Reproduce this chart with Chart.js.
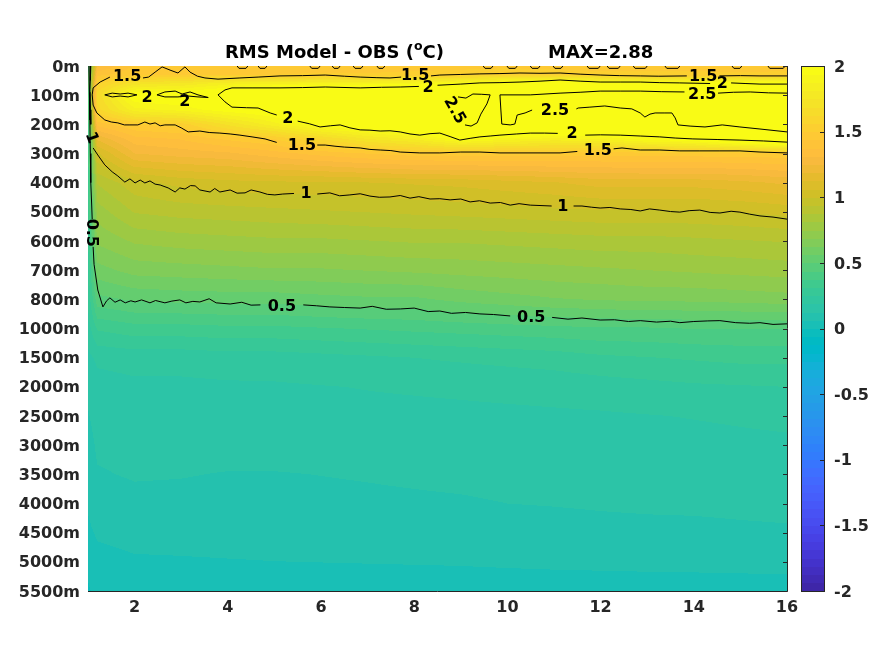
<!DOCTYPE html>
<html><head><meta charset="utf-8">
<script src="https://cdn.jsdelivr.net/npm/chart.js@4/dist/chart.umd.min.js"></script>
<style>
html,body{margin:0;padding:0;background:#fff;}
#wrap{position:relative;width:875px;height:656px;}
#wrap canvas{position:absolute;left:0;top:0;}
</style>
</head><body>
<div id="wrap"><canvas id="main" width="875" height="656"></canvas><canvas id="cbar" width="875" height="656"></canvas></div>
<script>
// ---------------- data ----------------
const depthLabels = ['0m','100m','200m','300m','400m','500m','600m','700m','800m','1000m','1500m','2000m','2500m','3000m','3500m','4000m','4500m','5000m','5500m'];
const xTickValues = [2,4,6,8,10,12,14,16];
const colorbarTicks = [-2,-1.5,-1,-0.5,0,0.5,1,1.5,2];
const titleLeft = 'RMS Model - OBS (';
const titleSup = 'o';
const titleEnd = 'C)';
const titleMax = 'MAX=2.88';

// grid nodes: x (month-like index) and depth-level index
const gridX = [1,1.2,2,3,4,5,6,7,8,9,10,11,12,13,14,15,16];
const gridDepthIdx = [0,0.3,0.6,1,1.5,2,2.5,3,4,5,6,7,8,9,10,11,12,13,14,15,16,17,18];

const rms_d00 = [0.45,1.3,1.45,1.47,1.48,1.46,1.47,1.46,1.47,1.47,1.48,1.47,1.46,1.47,1.47,1.46,1.47];
const rms_d03 = [0.45,1.42,1.48,1.5,1.5,1.5,1.51,1.51,1.52,1.54,1.56,1.55,1.53,1.52,1.52,1.52,1.52];
const rms_d06 = [0.45,1.55,1.72,1.76,1.85,1.87,1.88,1.9,1.92,1.96,2.05,2.1,2.03,2.02,2.0,2.02,2.0];
const rms_d10 = [0.42,1.65,2.02,2.03,2.1,2.28,2.33,2.36,2.4,2.5,2.62,2.62,2.65,2.7,2.68,2.75,2.72];
const rms_d15 = [0.4,1.6,1.85,1.9,1.98,2.03,2.15,2.2,2.26,2.52,2.55,2.47,2.46,2.56,2.72,2.86,2.84];
const rms_d20 = [0.38,1.4,1.5,1.53,1.7,1.85,2.0,2.08,2.13,2.52,2.48,2.22,2.24,2.35,2.52,2.55,2.6];
const rms_d25 = [0.36,1.2,1.35,1.38,1.45,1.5,1.62,1.75,1.82,1.98,1.9,1.85,1.88,1.97,2.02,2.15,2.25];
const rms_d30 = [0.35,1.05,1.25,1.28,1.3,1.35,1.4,1.44,1.47,1.47,1.47,1.47,1.46,1.47,1.47,1.47,1.48];
const rms_d40 = [0.33,0.88,0.98,1.02,1.04,1.05,1.05,1.06,1.07,1.08,1.1,1.12,1.15,1.15,1.15,1.17,1.2];
const rms_d50 = [0.31,0.78,0.88,0.9,0.91,0.92,0.93,0.94,0.95,0.96,0.97,0.98,0.99,0.99,0.99,1.0,1.02];
const rms_d60 = [0.3,0.7,0.76,0.78,0.79,0.8,0.8,0.81,0.82,0.82,0.83,0.84,0.85,0.85,0.86,0.87,0.88];
const rms_d70 = [0.28,0.6,0.65,0.66,0.67,0.68,0.68,0.69,0.7,0.71,0.72,0.73,0.74,0.75,0.76,0.77,0.78];
const rms_d80 = [0.26,0.48,0.51,0.52,0.525,0.525,0.54,0.55,0.55,0.58,0.6,0.62,0.63,0.64,0.64,0.65,0.66];
const rms_d90 = [0.22,0.32,0.35,0.35,0.36,0.36,0.37,0.38,0.39,0.4,0.41,0.42,0.43,0.43,0.44,0.44,0.44];
const rms_d100 = [0.17,0.2,0.21,0.21,0.22,0.22,0.23,0.24,0.25,0.26,0.27,0.28,0.3,0.31,0.32,0.33,0.33];
const rms_d110 = [0.14,0.165,0.175,0.175,0.178,0.18,0.185,0.19,0.195,0.2,0.205,0.21,0.22,0.23,0.24,0.245,0.25];
const rms_d120 = [0.12,0.15,0.16,0.16,0.162,0.165,0.165,0.17,0.17,0.172,0.175,0.178,0.18,0.185,0.19,0.195,0.2];
const rms_d130 = [0.1,0.135,0.145,0.145,0.15,0.15,0.15,0.152,0.155,0.158,0.16,0.163,0.165,0.168,0.17,0.175,0.178];
const rms_d140 = [0.09,0.12,0.13,0.128,0.122,0.122,0.126,0.13,0.135,0.14,0.145,0.148,0.15,0.152,0.154,0.156,0.158];
const rms_d150 = [0.07,0.1,0.11,0.108,0.105,0.105,0.108,0.112,0.115,0.118,0.125,0.128,0.132,0.135,0.136,0.138,0.14];
const rms_d160 = [0.05,0.07,0.08,0.08,0.082,0.083,0.085,0.088,0.09,0.093,0.097,0.1,0.105,0.108,0.11,0.115,0.118];
const rms_d170 = [0.02,0.045,0.056,0.058,0.06,0.062,0.063,0.064,0.065,0.066,0.068,0.07,0.071,0.072,0.073,0.074,0.075];
const rms_d180 = [-0.01,0.025,0.035,0.036,0.037,0.038,0.039,0.04,0.04,0.041,0.042,0.042,0.043,0.044,0.044,0.045,0.045];

const gridValues = [rms_d00,rms_d03,rms_d06,rms_d10,rms_d15,rms_d20,rms_d25,rms_d30,rms_d40,rms_d50,rms_d60,rms_d70,rms_d80,rms_d90,rms_d100,rms_d110,rms_d120,rms_d130,rms_d140,rms_d150,rms_d160,rms_d170,rms_d180];

// contour polylines [x, depth index]
const contour05 = [
 [[1.02,0],[1.03,0.9],[1.04,1.85],[1.05,3.0],[1.06,4.0],[1.08,4.8],[1.09,5.25]],
 [[1.11,6.2],[1.13,6.8],[1.21,7.68],[1.32,8.26],[1.40,8.05],[1.47,7.95],[1.58,8.10],[1.69,8.02],[1.80,8.12],[1.92,8.05],[2.01,8.09],[2.15,8.02],[2.33,8.12],[2.45,8.04],[2.65,8.12],[2.80,8.06],[2.97,8.02],[3.10,8.12],[3.25,8.07],[3.40,8.09],[3.60,7.98],[3.75,8.12],[4.05,8.16],[4.30,8.10],[4.50,8.20],[4.70,8.19]],
 [[5.62,8.19],[5.90,8.22],[6.19,8.26],[6.50,8.28],[6.84,8.30],[7.10,8.24],[7.40,8.34],[7.70,8.33],[8.00,8.30],[8.30,8.42],[8.55,8.40],[8.80,8.48],[9.10,8.45],[9.41,8.50],[9.70,8.52],[10.06,8.57]],
 [[10.96,8.62],[11.30,8.68],[11.60,8.64],[11.99,8.71],[12.30,8.70],[12.60,8.76],[12.85,8.73],[13.20,8.78],[13.50,8.75],[13.70,8.80],[14.00,8.76],[14.30,8.74],[14.56,8.73],[14.90,8.80],[15.20,8.82],[15.42,8.80],[15.70,8.86],[16.00,8.84]]
];
const contour10 = [
 [[1.06,0],[1.05,0.5],[1.04,0.82],[1.05,1.5],[1.06,2.0]],
 [[1.11,2.81],[1.21,3.05],[1.36,3.39],[1.52,3.63],[1.64,3.77],[1.79,3.98],[1.90,3.87],[2.01,4.01],[2.12,3.91],[2.22,4.01],[2.33,3.94],[2.44,4.05],[2.55,4.08],[2.72,4.18],[2.87,4.32],[2.97,4.18],[3.08,4.22],[3.20,4.10],[3.30,4.11],[3.40,4.25],[3.62,4.32],[3.72,4.20],[3.83,4.32],[4.05,4.25],[4.20,4.36],[4.37,4.35],[4.50,4.25],[4.69,4.32],[4.85,4.40],[5.01,4.42],[5.18,4.39],[5.42,4.37]],
 [[5.92,4.39],[6.19,4.35],[6.40,4.45],[6.62,4.42],[6.84,4.38],[7.05,4.46],[7.25,4.50],[7.48,4.49],[7.70,4.44],[7.91,4.53],[8.10,4.48],[8.34,4.56],[8.55,4.55],[8.77,4.59],[9.00,4.56],[9.20,4.66],[9.40,4.62],[9.63,4.70],[9.85,4.68],[10.06,4.77],[10.25,4.72],[10.49,4.77],[10.95,4.80]],
 [[11.42,4.80],[11.60,4.80],[11.80,4.84],[11.99,4.87],[12.20,4.85],[12.42,4.90],[12.65,4.92],[12.85,4.97],[13.05,4.90],[13.27,4.94],[13.50,4.99],[13.70,5.01],[13.90,4.96],[14.13,4.94],[14.35,5.02],[14.56,5.04],[14.80,4.98],[14.99,5.01],[15.20,5.08],[15.42,5.14],[15.70,5.18],[16.00,5.25]]
];
const contour15 = [
 [[1.47,0.38],[1.26,0.55],[1.11,0.75],[1.09,0.99],[1.11,1.34],[1.19,1.61],[1.36,1.85],[1.50,1.92],[1.64,1.95],[1.78,2.02],[1.90,2.02],[2.07,2.02],[2.22,1.92],[2.33,1.99],[2.44,1.95],[2.55,2.05],[2.65,2.02],[2.87,2.02],[3.00,2.12],[3.15,2.26],[3.40,2.23],[3.60,2.28],[3.83,2.30],[4.05,2.33],[4.26,2.37],[4.52,2.43],[4.80,2.50],[5.05,2.62]],
 [[5.92,2.71],[6.09,2.71],[6.30,2.75],[6.50,2.78],[6.84,2.81],[7.05,2.86],[7.27,2.88],[7.50,2.90],[7.70,2.95],[8.12,2.98],[8.55,2.98],[9.00,2.95],[9.41,2.95],[9.84,2.98],[10.27,2.98],[10.70,2.98],[11.13,2.98],[11.50,2.93]],
 [[12.28,2.84],[12.46,2.81],[12.85,2.88],[13.27,2.88],[13.70,2.91],[14.13,2.91],[14.56,2.91],[14.99,2.91],[15.42,2.95],[16.00,2.98]],
 [[2.18,0.41],[2.30,0.38],[2.44,0.21],[2.59,0.03],[2.76,0.14],[2.93,0.24],[3.08,0.03],[3.19,0.21],[3.35,0.35],[3.51,0.41],[3.79,0.45],[4.26,0.41],[4.65,0.38],[5.12,0.34],[5.60,0.33],[6.09,0.31],[6.50,0.35],[6.84,0.38],[7.20,0.40],[7.48,0.41],[7.72,0.38]],
 [[8.36,0.34],[8.55,0.31],[9.00,0.29],[9.41,0.27],[9.84,0.26],[10.27,0.24],[10.70,0.25],[11.13,0.24],[11.56,0.28],[11.99,0.31],[12.40,0.33],[12.85,0.34],[13.25,0.35],[13.85,0.34]],
 [[14.55,0.34],[15.00,0.33],[15.42,0.34],[16.00,0.34]],
 [[4.20,0],[4.24,0.08],[4.39,0.08],[4.43,0]],
 [[4.65,0],[4.69,0.08],[4.80,0.08],[4.84,0]],
 [[5.76,0],[5.80,0.08],[5.94,0.08],[5.98,0]],
 [[6.24,0],[6.28,0.08],[6.37,0.08],[6.41,0]],
 [[6.69,0],[6.73,0.08],[6.86,0.08],[6.90,0]],
 [[7.20,0],[7.24,0.08],[7.33,0.08],[7.37,0]],
 [[9.48,0],[9.52,0.08],[9.65,0.08],[9.69,0]],
 [[9.99,0],[10.03,0.08],[10.17,0.08],[10.21,0]],
 [[10.49,0],[10.53,0.08],[10.66,0.08],[10.70,0]],
 [[10.98,0],[11.02,0.08],[11.15,0.08],[11.19,0]],
 [[11.71,0],[11.75,0.08],[11.95,0.08],[11.99,0]],
 [[12.14,0],[12.18,0.08],[12.38,0.08],[12.42,0]],
 [[12.70,0],[12.74,0.08],[12.96,0.08],[13.00,0]],
 [[13.38,0],[13.42,0.08],[13.66,0.08],[13.70,0]],
 [[14.82,0],[14.86,0.08],[14.99,0.08],[15.03,0]],
 [[15.59,0],[15.63,0.08],[15.92,0.08],[15.96,0]]
];
const contour20 = [
 [[1.36,0.99],[1.52,0.93],[1.69,0.96],[1.86,0.93],[2.05,0.99],[1.86,1.06],[1.69,1.03],[1.52,1.06],[1.36,0.99]],
 [[2.48,0.99],[2.65,0.89],[2.87,0.86],[3.02,0.96],[3.19,0.89],[3.36,0.99],[3.58,1.08],[3.36,1.06],[3.15,1.03],[2.93,1.06],[2.65,1.06],[2.48,0.99]],
 [[3.79,0.99],[3.94,0.82],[4.09,0.75],[4.52,0.75],[5.12,0.75],[5.60,0.74],[6.09,0.72],[6.84,0.75],[7.30,0.73],[7.70,0.72],[8.10,0.70]],
 [[8.50,0.66],[9.00,0.62],[9.41,0.58],[9.84,0.57],[10.27,0.55],[10.70,0.52],[11.13,0.48],[11.56,0.52],[11.99,0.55],[12.42,0.55],[12.85,0.55],[13.27,0.57],[13.70,0.58],[14.35,0.60]],
 [[14.80,0.58],[15.10,0.60],[15.42,0.62],[16.00,0.62]],
 [[3.79,0.99],[3.94,1.23],[4.09,1.41],[4.40,1.43],[4.65,1.44],[4.91,1.61],[5.05,1.68]],
 [[5.50,1.89],[5.75,1.98],[5.98,2.09],[6.20,2.05],[6.41,2.02],[6.62,2.12],[6.84,2.19],[7.05,2.20],[7.27,2.23],[7.48,2.22],[7.70,2.26],[7.91,2.33],[8.12,2.37],[8.34,2.32],[8.55,2.30],[8.77,2.42],[8.98,2.54],[9.20,2.48],[9.41,2.43],[9.63,2.40],[9.84,2.37],[10.20,2.33],[10.49,2.30],[10.80,2.30],[11.08,2.31]],
 [[11.67,2.37],[12.00,2.36],[12.42,2.37],[12.85,2.40],[13.27,2.43],[13.60,2.47],[13.98,2.50],[14.50,2.52],[14.99,2.54],[15.50,2.57],[16.00,2.61]]
];
const contour25 = [
 [[8.94,1.06],[9.11,1.10],[9.26,0.96],[9.45,0.97],[9.63,0.99],[9.56,1.30],[9.43,1.65],[9.35,1.95],[9.22,2.06],[9.09,2.02]],
 [[10.53,1.51],[10.38,1.61],[10.21,1.68],[10.16,1.99],[10.06,2.02],[9.88,1.99],[9.86,1.51],[9.84,0.99],[10.49,0.99],[11.13,0.93],[11.56,0.90],[11.99,0.86],[12.42,0.86],[12.85,0.86],[13.30,0.88],[13.80,0.89]],
 [[14.52,0.93],[14.85,0.90],[15.21,0.89],[15.60,0.92],[16.00,0.93]],
 [[11.48,1.47],[11.52,1.44],[11.77,1.41],[12.09,1.37],[12.42,1.44],[12.67,1.47],[12.85,1.61],[12.95,1.75],[13.06,1.65],[13.17,1.61],[13.38,1.61],[13.53,1.61],[13.60,1.78],[13.66,2.02],[13.92,2.06],[14.24,2.09],[14.61,2.02],[14.99,2.09],[15.42,2.16],[16.00,2.26]]
];

const contourLabelText  = ['0.5','0.5','0.5','1','1','1','1.5','1.5','1.5','1.5','1.5','2','2','2','2','2','2','2.5','2.5','2.5'];
const contourLabelX     = [1.09,5.16,10.51, 1.09,5.68,11.19, 1.84,5.59,8.02,11.94,14.2, 2.27,3.08,5.29,8.30,11.39,14.61, 8.88,11.02,14.18];
const contourLabelY     = [5.72,8.23,8.6, 2.45,4.35,4.8, 0.34,2.71,0.31,2.88,0.34, 1.06,1.2,1.78,0.72,2.3,0.58, 1.51,1.51,0.96];
const contourLabelAngle = [90,0,0, 70,0,0, 0,0,0,0,0, 0,0,0,0,0,0, 60,0,0];

// ---------------- colormap (parula, 64) ----------------
const PARULA = [[0.2422,0.1504,0.6603],[0.2504,0.1650,0.7076],[0.2578,0.1818,0.7511],[0.2647,0.1978,0.7952],[0.2706,0.2147,0.8364],[0.2751,0.2342,0.8710],[0.2783,0.2559,0.8991],[0.2803,0.2782,0.9221],[0.2813,0.3006,0.9414],[0.2810,0.3228,0.9579],[0.2795,0.3447,0.9717],[0.2760,0.3667,0.9829],[0.2699,0.3892,0.9906],[0.2602,0.4123,0.9952],[0.2440,0.4358,0.9988],[0.2206,0.4603,0.9973],[0.1963,0.4847,0.9892],[0.1834,0.5074,0.9798],[0.1786,0.5289,0.9682],[0.1764,0.5499,0.9520],[0.1687,0.5703,0.9359],[0.1540,0.5902,0.9218],[0.1460,0.6091,0.9079],[0.1380,0.6276,0.8973],[0.1248,0.6459,0.8883],[0.1113,0.6635,0.8763],[0.0952,0.6798,0.8598],[0.0689,0.6948,0.8394],[0.0297,0.7082,0.8163],[0.0036,0.7203,0.7917],[0.0067,0.7312,0.7660],[0.0433,0.7411,0.7394],[0.0964,0.7500,0.7120],[0.1408,0.7584,0.6842],[0.1717,0.7670,0.6554],[0.1938,0.7758,0.6251],[0.2161,0.7843,0.5923],[0.2470,0.7918,0.5567],[0.2906,0.7973,0.5188],[0.3406,0.8008,0.4789],[0.3909,0.8029,0.4354],[0.4456,0.8024,0.3909],[0.5044,0.7993,0.3480],[0.5616,0.7942,0.3045],[0.6174,0.7876,0.2612],[0.6720,0.7793,0.2227],[0.7242,0.7698,0.1910],[0.7738,0.7598,0.1646],[0.8203,0.7498,0.1535],[0.8634,0.7406,0.1596],[0.9035,0.7330,0.1774],[0.9393,0.7288,0.2100],[0.9728,0.7298,0.2394],[0.9956,0.7434,0.2371],[0.9970,0.7659,0.2199],[0.9952,0.7893,0.2028],[0.9892,0.8136,0.1885],[0.9786,0.8386,0.1766],[0.9676,0.8639,0.1643],[0.9610,0.8890,0.1537],[0.9597,0.9135,0.1423],[0.9628,0.9373,0.1265],[0.9691,0.9606,0.1064],[0.9769,0.9839,0.0805]];
const C_MIN = -2, C_MAX = 2;
function cmapIndex(v){ let k = Math.floor((v - C_MIN) / (C_MAX - C_MIN) * 64); return k < 0 ? 0 : (k > 63 ? 63 : k); }
function cmapCss(k){ const c = PARULA[k]; return 'rgb(' + Math.round(c[0]*255) + ',' + Math.round(c[1]*255) + ',' + Math.round(c[2]*255) + ')'; }

// ---------------- style ----------------
const FONT_FAMILY = '"DejaVu Sans", "Liberation Sans", sans-serif';
const TICK_COLOR = '#262626';
const AXIS_COLOR = '#262626';

function findSeg(arr, v){
  if (v <= arr[0]) return 0;
  for (let k = 0; k < arr.length - 1; k++) if (v <= arr[k+1]) return k;
  return arr.length - 2;
}

const heatmapPlugin = {
  id: 'heatmap',
  beforeDatasetsDraw(chart){
    const ctx = chart.ctx, a = chart.chartArea, xs = chart.scales.x, ys = chart.scales.y;
    const dpr = chart.currentDevicePixelRatio || 1;
    const W = Math.max(1, Math.round((a.right - a.left) * dpr));
    const H = Math.max(1, Math.round((a.bottom - a.top) * dpr));
    const off = document.createElement('canvas'); off.width = W; off.height = H;
    const octx = off.getContext('2d');
    const img = octx.createImageData(W, H);
    const ci = new Int32Array(W), ct = new Float32Array(W);
    for (let i = 0; i < W; i++) {
      const xv = xs.getValueForPixel(a.left + (i + 0.5) / dpr);
      const k = findSeg(gridX, xv);
      let t = (xv - gridX[k]) / (gridX[k+1] - gridX[k]); t = Math.max(0, Math.min(1, t));
      ci[i] = k; ct[i] = t;
    }
    const rj = new Int32Array(H), rt = new Float32Array(H);
    for (let j = 0; j < H; j++) {
      const yv = ys.getValueForPixel(a.top + (j + 0.5) / dpr);
      const k = findSeg(gridDepthIdx, yv);
      let t = (yv - gridDepthIdx[k]) / (gridDepthIdx[k+1] - gridDepthIdx[k]); t = Math.max(0, Math.min(1, t));
      rj[j] = k; rt[j] = t;
    }
    const d = img.data;
    for (let j = 0; j < H; j++) {
      const r0 = gridValues[rj[j]], r1 = gridValues[rj[j] + 1], ty = rt[j];
      for (let i = 0; i < W; i++) {
        const k = ci[i], tx = ct[i];
        const v0 = r0[k] * (1 - tx) + r0[k+1] * tx;
        const v1 = r1[k] * (1 - tx) + r1[k+1] * tx;
        const v = v0 * (1 - ty) + v1 * ty;
        const c = PARULA[cmapIndex(v)];
        const p = (j * W + i) * 4;
        d[p] = Math.round(c[0]*255); d[p+1] = Math.round(c[1]*255); d[p+2] = Math.round(c[2]*255); d[p+3] = 255;
      }
    }
    octx.putImageData(img, 0, 0);
    ctx.save();
    ctx.imageSmoothingEnabled = false;
    ctx.drawImage(off, a.left, a.top, a.right - a.left, a.bottom - a.top);
    ctx.restore();
  },
  afterDatasetsDraw(chart){
    const ctx = chart.ctx, xs = chart.scales.x, ys = chart.scales.y;
    ctx.save();
    ctx.fillStyle = '#000';
    ctx.font = 'bold 16px ' + FONT_FAMILY;
    ctx.textAlign = 'center';
    ctx.textBaseline = 'middle';
    for (let n = 0; n < contourLabelText.length; n++) {
      const px = xs.getPixelForValue(contourLabelX[n]);
      const py = ys.getPixelForValue(contourLabelY[n]);
      ctx.save();
      ctx.translate(px, py);
      ctx.rotate(contourLabelAngle[n] * Math.PI / 180);
      ctx.fillText(contourLabelText[n], 0, 1);
      ctx.restore();
    }
    ctx.restore();
  },
  afterDraw(chart){
    const ctx = chart.ctx, a = chart.chartArea, ys = chart.scales.y;
    ctx.save();
    ctx.strokeStyle = AXIS_COLOR;
    ctx.lineWidth = 1;
    ctx.beginPath();
    ctx.moveTo(a.left, a.bottom + 0.5); ctx.lineTo(a.right + 0.5, a.bottom + 0.5);
    ctx.moveTo(a.right + 0.5, a.top); ctx.lineTo(a.right + 0.5, a.bottom + 0.5);
    for (let i = 0; i < depthLabels.length; i++) {
      const py = Math.round(ys.getPixelForValue(i)) + 0.5;
      ctx.moveTo(a.right + 0.5, py); ctx.lineTo(a.right - 4, py);
    }
    ctx.stroke();
    // title
    ctx.fillStyle = '#000';
    ctx.textBaseline = 'alphabetic';
    ctx.textAlign = 'left';
    ctx.font = 'bold 18px ' + FONT_FAMILY;
    let x0 = 225;
    ctx.fillText(titleLeft, x0, 58);
    x0 += ctx.measureText(titleLeft).width;
    ctx.font = 'bold 12.5px ' + FONT_FAMILY;
    ctx.fillText(titleSup, x0, 50);
    x0 += ctx.measureText(titleSup).width;
    ctx.font = 'bold 18px ' + FONT_FAMILY;
    ctx.fillText(titleEnd, x0, 58);
    ctx.fillText(titleMax, 548, 58);
    ctx.restore();
  }
};

// ---------------- main chart ----------------
const datasets = [];
[contour05, contour10, contour15, contour20, contour25].forEach(level => {
  level.forEach(seg => {
    datasets.push({
      data: seg.map(p => ({x: p[0], y: p[1]})),
      showLine: true, borderColor: '#000', borderWidth: 1, pointRadius: 0, pointHoverRadius: 0,
      fill: false, tension: 0
    });
  });
});

const tickFont = {family: FONT_FAMILY, size: 16, weight: 'bold'};

new Chart(document.getElementById('main'), {
  type: 'scatter',
  data: {datasets},
  options: {
    responsive: false, animation: false, events: [],
    layout: {padding: {left: 0, right: 88, top: 66, bottom: 0}},
    plugins: {legend: {display: false}, tooltip: {enabled: false}, title: {display: false}},
    scales: {
      x: {
        type: 'linear', min: 1, max: 16,
        afterBuildTicks: s => { s.ticks = xTickValues.map(v => ({value: v})); },
        afterFit: s => { s.height = 65; },
        grid: {display: false, drawTicks: false}, border: {display: false},
        ticks: {font: tickFont, color: TICK_COLOR, padding: 7, maxRotation: 0, autoSkip: false, callback: v => String(v)}
      },
      y: {
        type: 'linear', min: 0, max: depthLabels.length - 1, reverse: true,
        afterBuildTicks: s => { s.ticks = depthLabels.map((_, i) => ({value: i})); },
        afterFit: s => { s.width = 88; },
        grid: {display: false, drawTicks: false}, border: {display: false},
        ticks: {font: tickFont, color: TICK_COLOR, padding: 8, labelOffset: 1.5, autoSkip: false, callback: v => depthLabels[v]}
      }
    }
  },
  plugins: [heatmapPlugin]
});

// ---------------- colorbar ----------------
const colorbarPlugin = {
  id: 'colorbar',
  beforeDatasetsDraw(chart){
    const ctx = chart.ctx, a = chart.chartArea, ys = chart.scales.y;
    ctx.save();
    for (let k = 0; k < 64; k++) {
      const lo = C_MIN + k * (C_MAX - C_MIN) / 64, hi = lo + (C_MAX - C_MIN) / 64;
      const yTop = ys.getPixelForValue(hi), yBot = ys.getPixelForValue(lo);
      ctx.fillStyle = cmapCss(k);
      ctx.fillRect(a.left, Math.floor(yTop), a.right - a.left, Math.ceil(yBot) - Math.floor(yTop));
    }
    ctx.strokeStyle = AXIS_COLOR; ctx.lineWidth = 1;
    ctx.strokeRect(a.left + 0.5, a.top + 0.5, a.right - a.left - 1, a.bottom - a.top);
    ctx.beginPath();
    colorbarTicks.forEach(v => {
      const py = Math.round(ys.getPixelForValue(v)) + 0.5;
      ctx.moveTo(a.right - 0.5, py); ctx.lineTo(a.right - 5, py);
    });
    ctx.stroke();
    ctx.restore();
  }
};

new Chart(document.getElementById('cbar'), {
  type: 'scatter',
  data: {datasets: [{data: []}]},
  options: {
    responsive: false, animation: false, events: [],
    layout: {padding: {left: 801, right: 0, top: 66, bottom: 65}},
    plugins: {legend: {display: false}, tooltip: {enabled: false}},
    scales: {
      x: {display: false, min: 0, max: 1},
      y: {
        position: 'right', min: C_MIN, max: C_MAX,
        afterBuildTicks: s => { s.ticks = colorbarTicks.map(v => ({value: v})); },
        afterFit: s => { s.width = 50; },
        grid: {display: false, drawTicks: false}, border: {display: false},
        ticks: {font: tickFont, color: TICK_COLOR, padding: 9, labelOffset: 1.5, autoSkip: false, callback: v => String(v)}
      }
    }
  },
  plugins: [colorbarPlugin]
});
</script>
</body></html>
